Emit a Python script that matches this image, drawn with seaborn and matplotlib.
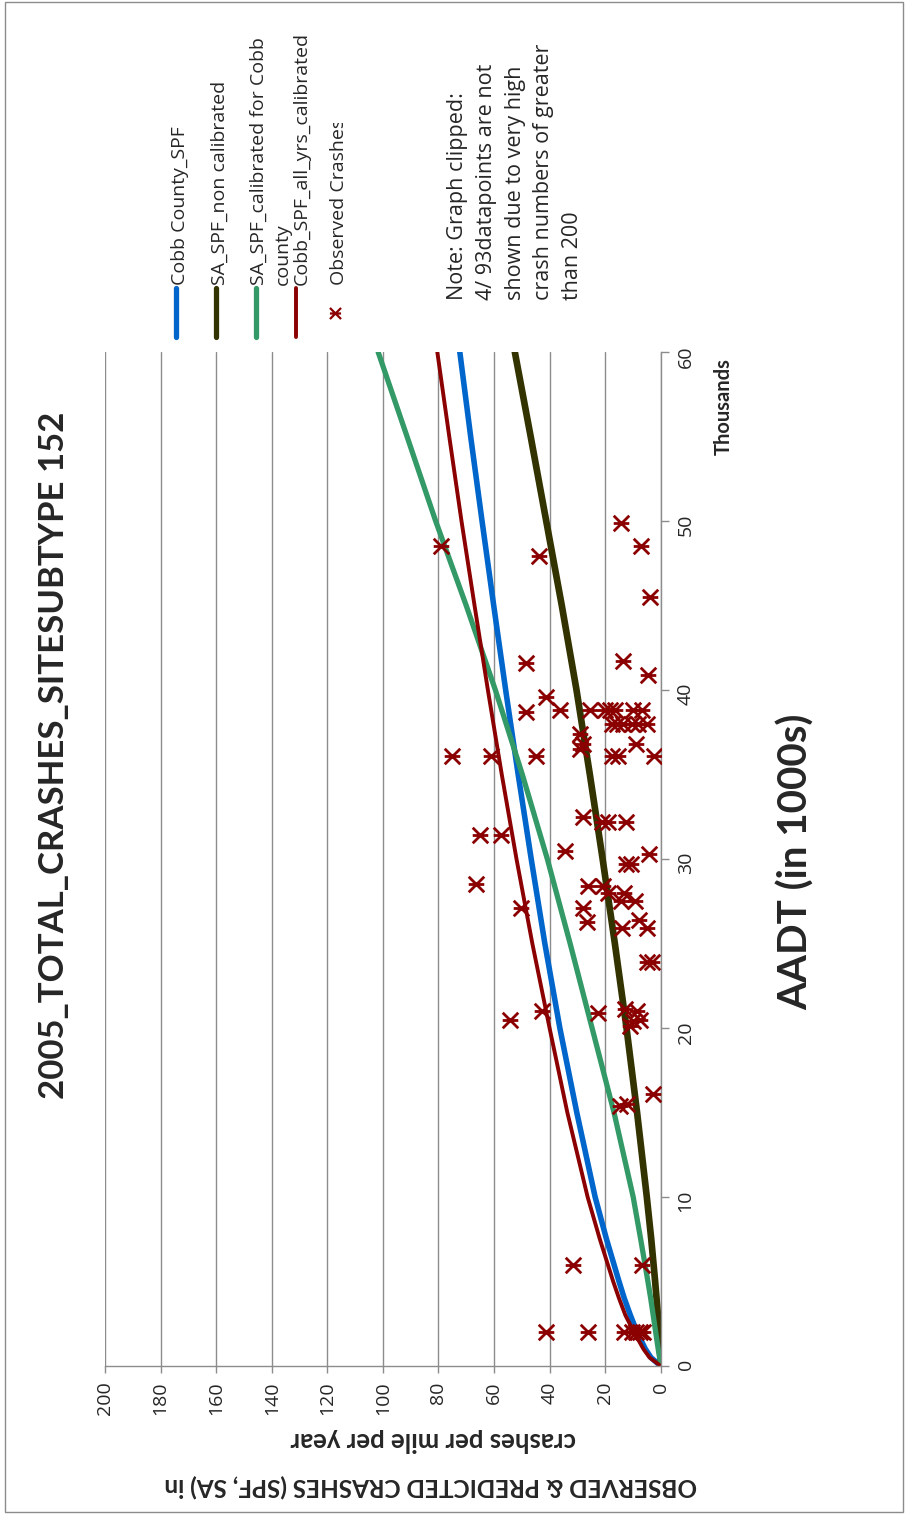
import matplotlib
matplotlib.use("Agg")
import matplotlib.pyplot as plt
import seaborn as sns
from matplotlib.path import Path
from matplotlib.lines import Line2D
from matplotlib.patches import Rectangle
from matplotlib.transforms import Bbox, TransformedBbox

# ---------------- data ----------------
# AADT in thousands, shared by the four SPF curves
aadt_k = [0, 0.5, 1, 2, 3, 4, 5, 7.5, 10, 15, 20, 25, 30, 35, 40, 45, 50, 55, 60]

cobb_county_spf = [0, 3.5, 5.5, 8.5, 10.9, 13.1, 15.0, 19.5, 23.6, 30.2, 36.3,
                   41.7, 46.6, 51.3, 55.8, 60.1, 64.3, 68.4, 72.3]
sa_spf_non_cal = [0, 0.1, 0.25, 0.6, 1.0, 1.5, 2.0, 3.4, 5.0, 8.5, 12.3,
                  16.5, 20.9, 25.5, 30.3, 35.6, 41.2, 46.8, 52.5]
sa_spf_cal_cobb = [0, 0.4, 0.9, 1.8, 2.7, 3.6, 4.6, 7.2, 9.9, 16.8, 24.7,
                   32.6, 40.8, 49.8, 59.5, 70.0, 81.0, 91.3, 101.7]
cobb_spf_all_yrs = [0, 4.0, 6.2, 9.6, 12.7, 15.0, 17.1, 21.9, 26.3, 33.6, 40.0,
                    46.2, 51.9, 57.2, 62.2, 67.0, 71.7, 76.1, 80.4]

# observed crashes per mile per year at each site (AADT in thousands)
obs_aadt_k = [48.5, 48.5, 47.9, 49.9, 45.5, 41.6, 41.7, 40.9, 39.6, 38.7,
              38.8, 38.8, 38.8, 38.8, 38.8, 38.8, 38.8,
              38.0, 38.0, 38.0, 38.0, 38.0, 38.0,
              37.4, 36.8, 36.8, 36.5,
              36.1, 36.1, 36.1, 36.1, 36.1, 36.1,
              32.5, 32.2, 32.2, 32.2, 31.4, 31.4, 30.5, 30.3, 29.7, 29.7,
              28.5, 28.4, 28.4, 28.0, 28.0, 27.5, 27.5, 27.1, 27.1, 26.3, 26.4,
              25.9, 25.9, 23.9, 23.9,
              20.5, 21.0, 20.9, 21.1, 21.0, 20.5, 20.4, 20.1,
              15.4, 15.5, 16.1, 6.0, 6.0,
              2.0, 2.0, 2.0, 2.0, 2.0, 2.0, 2.0]
obs_crashes = [79.2, 7.2, 43.7, 14.3, 3.9, 48.5, 13.7, 4.5, 41.3, 48.5,
               36.3, 25.5, 20.1, 18.3, 16.5, 9.9, 6.8,
               17.6, 15.8, 13.5, 10.4, 8.0, 5.0,
               29.1, 27.9, 8.9, 29.1,
               75.0, 61.1, 44.9, 17.6, 15.3, 2.4,
               27.9, 21.2, 18.9, 12.6, 65.1, 57.3, 34.5, 4.2, 12.6, 10.8,
               66.6, 26.1, 20.9, 18.9, 13.2, 14.3, 9.3, 50.1, 27.9, 26.6, 7.7,
               13.8, 5.0, 5.0, 3.0,
               54.3, 42.9, 22.5, 12.9, 8.6, 7.5, 9.9, 11.1,
               14.7, 12.0, 2.9, 31.7, 6.6,
               41.4, 26.3, 13.2, 10.5, 9.0, 7.5, 6.5]

series_names = ["Cobb County_SPF", "SA_SPF_non calibrated",
                "SA_SPF_calibrated for Cobb\ncounty", "Cobb_SPF_all_yrs_calibrated",
                "Observed Crashes"]
crash_ticks = list(range(0, 201, 20))
aadt_ticks = list(range(0, 61, 10))

title = "2005_TOTAL_CRASHES_SITESUBTYPE 152"
note_lines = ["Note: Graph clipped:", "4/ 93datapoints are not",
              "shown due to very high", "crash numbers of greater", "than 200"]

# ---------------- style ----------------
sns.set_style("white")
plt.rcParams["font.family"] = ["Open Sans", "DejaVu Sans"]
GRAY = "#8C8C8C"
colors = ["#0066CC", "#333300", "#339966", "#8B0000"]
widths = [4.0, 4.8, 3.8, 2.8]
OBS_COLOR = "#8B0000"

W, H = 908, 1514
fig = plt.figure(figsize=(W / 100, H / 100), dpi=100)

def fx(px):
    return px / W

def fy(py):
    return 1 - py / H

# chart is laid out turned a quarter turn: crashes run right-to-left, AADT bottom-to-top
ax = fig.add_axes([fx(105), fy(1366), fx(660.7) - fx(105), fy(352) - fy(1366)])
ax.set_xlim(200, 0)
ax.set_ylim(0, 60)

curves = [cobb_county_spf, sa_spf_non_cal, sa_spf_cal_cobb, cobb_spf_all_yrs]
for vals, c, lw in zip(curves, colors, widths):
    sns.lineplot(x=vals, y=aadt_k, sort=False, estimator=None, color=c,
                 linewidth=lw, ax=ax, legend=False)

star = Path([(-1, -1), (1, 1), (-1, 1), (1, -1), (-1, 0), (1, 0)],
            [Path.MOVETO, Path.LINETO, Path.MOVETO, Path.LINETO, Path.MOVETO, Path.LINETO])
sns.scatterplot(x=obs_crashes, y=obs_aadt_k, marker=star, s=125, color=OBS_COLOR,
                edgecolor=OBS_COLOR, linewidth=2.0, ax=ax, zorder=5, legend=False)

ax.set_xticks(crash_ticks)
ax.set_yticks(aadt_ticks)
ax.yaxis.tick_right()
ax.grid(axis="x", color=GRAY, linewidth=1.0)
ax.grid(axis="y", visible=False)
for side in ["top", "left"]:
    ax.spines[side].set_visible(False)
for side in ["right", "bottom"]:
    ax.spines[side].set_color(GRAY)
    ax.spines[side].set_linewidth(1.0)
ax.tick_params(axis="x", direction="out", length=5, color=GRAY, width=1,
               labelrotation=90, labelsize=14, pad=6, bottom=True)
ax.tick_params(axis="y", direction="out", length=5.5, color=GRAY, width=1,
               labelrotation=90, labelsize=14, pad=6, right=True, left=False)
ax.set_xlabel("")
ax.set_ylabel("")

# ---------------- texts ----------------
bold = dict(family=["Lato", "DejaVu Sans"], fontweight="bold")
fig.text(fx(64), fy(755), title, rotation=90, rotation_mode="anchor",
         ha="center", va="baseline", fontsize=25, **bold)
fig.text(fx(808), fy(862), "AADT (in 1000s)", rotation=90, rotation_mode="anchor",
         ha="center", va="baseline", fontsize=29, **bold)
fig.text(fx(730), fy(407), "Thousands", rotation=90, rotation_mode="anchor",
         ha="center", va="baseline", fontsize=14.5, **bold)
fig.text(fx(433), fy(1440), "crashes per mile per year", rotation=180,
         rotation_mode="anchor", ha="center", va="center", fontsize=18.5, **bold)
fig.text(fx(431), fy(1486), "OBSERVED & PREDICTED CRASHES (SPF, SA) in", rotation=180,
         rotation_mode="anchor", ha="center", va="center", fontsize=17.5, **bold)

for i, line in enumerate(note_lines):
    fig.text(fx(463 + 28.8 * i), fy(300), line, rotation=90, rotation_mode="anchor",
             ha="left", va="baseline", fontsize=15.5)

# ---------------- legend (turned with the chart) ----------------
legend_clip = TransformedBbox(Bbox.from_extents(0, 0, 1, fy(123)), fig.transFigure)
line_x = [175.7, 215.5, 255.5, 295.5]
text_base = [185, 225, 264, 307]
for lx, tb, name, ln in zip(line_x, text_base, series_names[:4], ax.lines[:4]):
    fig.add_artist(Line2D([fx(lx), fx(lx)], [fy(337), fy(288)], transform=fig.transFigure,
                          color=ln.get_color(), linewidth=min(ln.get_linewidth(), 3.8),
                          solid_capstyle="round"))
    for j, part in enumerate(name.split("\n")):
        fig.text(fx(tb + 24 * j), fy(285), part, rotation=90, rotation_mode="anchor",
                 ha="left", va="baseline", fontsize=14)

fig.add_artist(Line2D([fx(335)], [fy(313)], transform=fig.transFigure, marker=star,
                      markersize=8, markeredgewidth=1.6, color=OBS_COLOR, linestyle="none"))
t = fig.text(fx(344), fy(285), series_names[4], rotation=90, rotation_mode="anchor",
             ha="left", va="baseline", fontsize=14)
t.set_clip_box(legend_clip)
t.set_clip_on(True)

# outer frame
fig.add_artist(Rectangle((fx(5), fy(1512)), fx(903) - fx(5), fy(2) - fy(1512),
                         transform=fig.transFigure, fill=False, edgecolor=GRAY, linewidth=1))

fig.savefig("out.png", dpi=100)
